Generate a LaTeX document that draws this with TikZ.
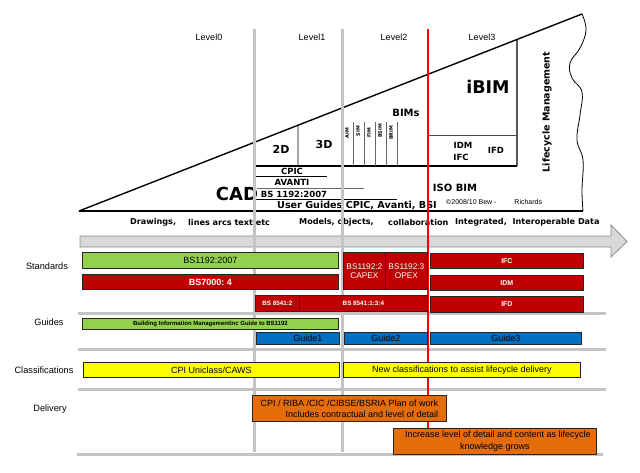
\documentclass[tikz,border=0pt]{standalone}
\usepackage{fontspec}
\setmainfont{Liberation Sans}
\newfontfamily\dvs{DejaVu Sans}
\usetikzlibrary{calc}
\definecolor{bgreen}{HTML}{92D050}
\definecolor{bred}{HTML}{C00000}
\definecolor{bblue}{HTML}{0070C0}
\definecolor{byellow}{HTML}{FFFF00}
\definecolor{borange}{HTML}{E46C0A}
\definecolor{gline}{HTML}{C4C4C4}
\definecolor{afill}{HTML}{D9D9D9}
\definecolor{aline}{HTML}{8C8C8C}
\newcommand\fsz[2]{\fontsize{#1}{#2}\selectfont}
\begin{document}
\begin{tikzpicture}[x=1pt,y=-1pt,
  wl/.style={font=\dvs\bfseries\fsz{8.5}{10}, inner sep=0pt},
  wtiny/.style={font=\dvs\bfseries\fsz{4.8}{5}, inner sep=0pt, rotate=90},
  lvl/.style={font=\fsz{9}{10}, inner sep=0pt},
  rowlab/.style={font=\fsz{9.2}{10}, inner sep=0pt},
  flow/.style={font=\dvs\bfseries\fsz{8.1}{9}, inner sep=0pt, anchor=west},
  bar/.style={draw=black!85, line width=0.8pt, inner sep=0pt, anchor=north west, font=\fsz{9}{11}},
  gbar/.style={bar, fill=bgreen},
  rbar/.style={bar, fill=bred, text=white},
  bbar/.style={bar, fill=bblue},
  ybar/.style={bar, fill=byellow},
  obar/.style={bar, fill=borange},
  sepline/.style={line width=3pt, color=gline},
  vgl/.style={line width=3pt, color=gline},
  thinline/.style={line width=0.9pt},
]
\useasboundingbox (0,0) rectangle (640,472);

% ---- wedge ----
\coordinate (A) at (79,211);
\coordinate (T) at (582,14);
\coordinate (B) at (583,211);
\coordinate (s298) at ($(A)!{(298-79)/503}!(T)$);
\coordinate (s517) at ($(A)!{(517-79)/503}!(T)$);
\draw[line width=1.4pt] (A) -- (T);
\draw[line width=1.7pt] (A) -- (B);
\draw[line width=0.8pt] plot[smooth,tension=0.7] coordinates {(582,14) (586,30) (580,48) (570,63) (572,78) (582,92) (580,115) (577,140) (583,160) (582,190) (583,211)};

\draw[line width=1.7pt] (255,166) -- (517,166);
\draw[thinline] (298,166) -- (s298);
\draw[line width=1.1pt] (517,166) -- (s517);
\draw[line width=0.8pt, black!70] (428,135) -- (517,135);
\foreach \xx in {353,364,375,386,397} \draw[line width=0.8pt, black!60] (\xx,122) -- (\xx,166);
\draw[thinline] (255,176) -- (327,176);
\draw[line width=0.8pt, black!60] (257,188) -- (364,188);
\draw[thinline] (256,199) -- (397,199);

\node[lvl] (l0) at (209,37) {Level0};
\node[lvl] (l1) at (312,37) {Level1};
\node[lvl] (l2) at (394,37) {Level2};
\node[lvl] (l3) at (482,37) {Level3};

\node[wl, font=\dvs\bfseries\fsz{18}{20}] (cad) at (237,193.5) {CAD};
\node[wl, font=\dvs\bfseries\fsz{11}{12}] (t2d) at (281,149) {2D};
\node[wl, font=\dvs\bfseries\fsz{11}{12}] (t3d) at (324,144) {3D};
\node[wl, font=\dvs\bfseries\fsz{10}{12}] (bims) at (406,113) {BIMs};
\node[wtiny] (aim) at (347,133) {AIM};
\node[wtiny] (sim) at (358,131) {SIM};
\node[wtiny] (fim) at (369,133) {FIM};
\node[wtiny] (bsim) at (380,131) {BSIM};
\node[wtiny] (brim) at (391,133) {BRIM};
\node[wl, font=\dvs\bfseries\fsz{17.5}{20}] (ibim) at (488,87) {iBIM};
\node[wl] (idm) at (463,145) {IDM};
\node[wl] (ifcw) at (461,157.5) {IFC};
\node[wl] (ifdw) at (496,150) {IFD};
\node[wl, font=\dvs\bfseries\fsz{10}{12}] (isobim) at (455,188) {ISO BIM};
\node[inner sep=0pt, anchor=west, font=\fsz{7}{8}] (copy) at (446,202) {©2008/10 Bew -\hspace{18pt}Richards};
\node[wl, font=\dvs\bfseries\fsz{9.5}{11}, rotate=90] (lcm) at (547,112) {Lifecycle Management};
\node[wl] (cpic) at (292,171) {CPIC};
\node[wl] (avanti) at (292,182.5) {AVANTI};
\node[wl] (bs2007) at (294,194) {BS 1192:2007};
\node[wl, font=\dvs\bfseries\fsz{9.6}{11}] (ug) at (357,206) {User Guides CPIC, Avanti, BSI};

% ---- flow text ----
\node[flow] (f1) at (130,222) {Drawings,};
\node[flow] (f2) at (188,222) {lines arcs text etc};
\node[flow] (f3) at (299,222) {Models, objects,};
\node[flow] (f4) at (388,222) {collaboration};
\node[flow] (f5) at (455,222) {Integrated,\hspace{3pt} Interoperable Data};

% ---- big arrow ----
\draw[fill=afill, draw=aline, line width=0.8pt] (80,236) -- (611,236) -- (611,225) -- (627,241.5) -- (611,257) -- (611,247) -- (80,247) -- cycle;

% ---- row labels ----
\node[rowlab] (rs) at (47,266) {Standards};
\node[rowlab] (rg) at (49,322) {Guides};
\node[rowlab] (rc) at (44,370) {Classifications};
\node[rowlab] (rd) at (50,409) {Delivery};

% ---- separators ----
\draw[sepline] (78,313.5) -- (606,313.5);
\draw[sepline] (78,349) -- (606,349);
\draw[sepline] (78,389) -- (606,389);
\draw[sepline] (77,454.5) -- (603,454.5);

% ---- level lines ----
\draw[vgl] (254,29) -- (254,452);
\draw[vgl] (342,29) -- (342,452);
\draw[line width=2.5pt, red] (428,29) -- (428,432);

% ---- bars ----
\node[gbar, minimum width=256pt, minimum height=16pt] (bs1192) at (82,252) {BS1192:2007};
\node[rbar, minimum width=256pt, minimum height=15pt, font=\bfseries\fsz{9}{11}] (bs7000) at (82,274) {BS7000:\ 4};
\node[rbar, minimum width=42pt, minimum height=37pt, align=center, font=\fsz{8.3}{9.5}] (capex) at (343,252) {BS1192:2\\CAPEX};
\node[rbar, minimum width=42pt, minimum height=37pt, align=center, font=\fsz{8.3}{9.5}] (opex) at (385,252) {BS1192:3\\OPEX};
\node[rbar, minimum width=153pt, minimum height=15pt, font=\bfseries\fsz{7}{8}] (ifc) at (430,253) {IFC};
\node[rbar, minimum width=153pt, minimum height=15pt, font=\bfseries\fsz{7}{8}] (idm2) at (430,275) {IDM};
\node[rbar, minimum width=153pt, minimum height=16pt, font=\bfseries\fsz{7}{8}] (ifd) at (430,296) {IFD};
\node[rbar, minimum width=44pt, minimum height=16pt, font=\bfseries\fsz{6.3}{7}] (bs85412) at (255,295) {BS 8541:2};
\node[rbar, minimum width=128pt, minimum height=16pt, font=\bfseries\fsz{6.3}{7}] (bs854134) at (299,295) {BS 8541:1:3:4};

\node[gbar, minimum width=256pt, minimum height=11pt, font=\bfseries\fsz{6}{7}] (bimg) at (82,318) {Building Information Managementinc Guide to BS1192};
\node[bbar, minimum width=83pt, minimum height=12pt] (g1) at (256,332) {\hspace{20pt}Guide1};
\node[bbar, minimum width=83pt, minimum height=12pt] (g2) at (344,332) {Guide2};
\node[bbar, minimum width=151pt, minimum height=12pt] (g3) at (430,332) {Guide3};

\node[ybar, minimum width=256pt, minimum height=15pt] (uni) at (83,362) {CPI Uniclass/CAWS};
\node[ybar, minimum width=237pt, minimum height=15pt] (newc) at (343,362) {New classifications to assist lifecycle delivery};

\node[obar, minimum width=194pt, minimum height=26pt, align=right] (plan) at (252,395) {CPI / RIBA /CIC /CIBSE/BSRIA Plan of work\\Includes contractual and level of detail\hspace{4pt}};
\node[obar, minimum width=203pt, minimum height=26pt, align=center, font=\fsz{9}{11.7}] (incr) at (393,428) {\hspace{6pt}Increase level of detail and content as lifecycle\\knowledge grows};
\end{tikzpicture}
\end{document}
